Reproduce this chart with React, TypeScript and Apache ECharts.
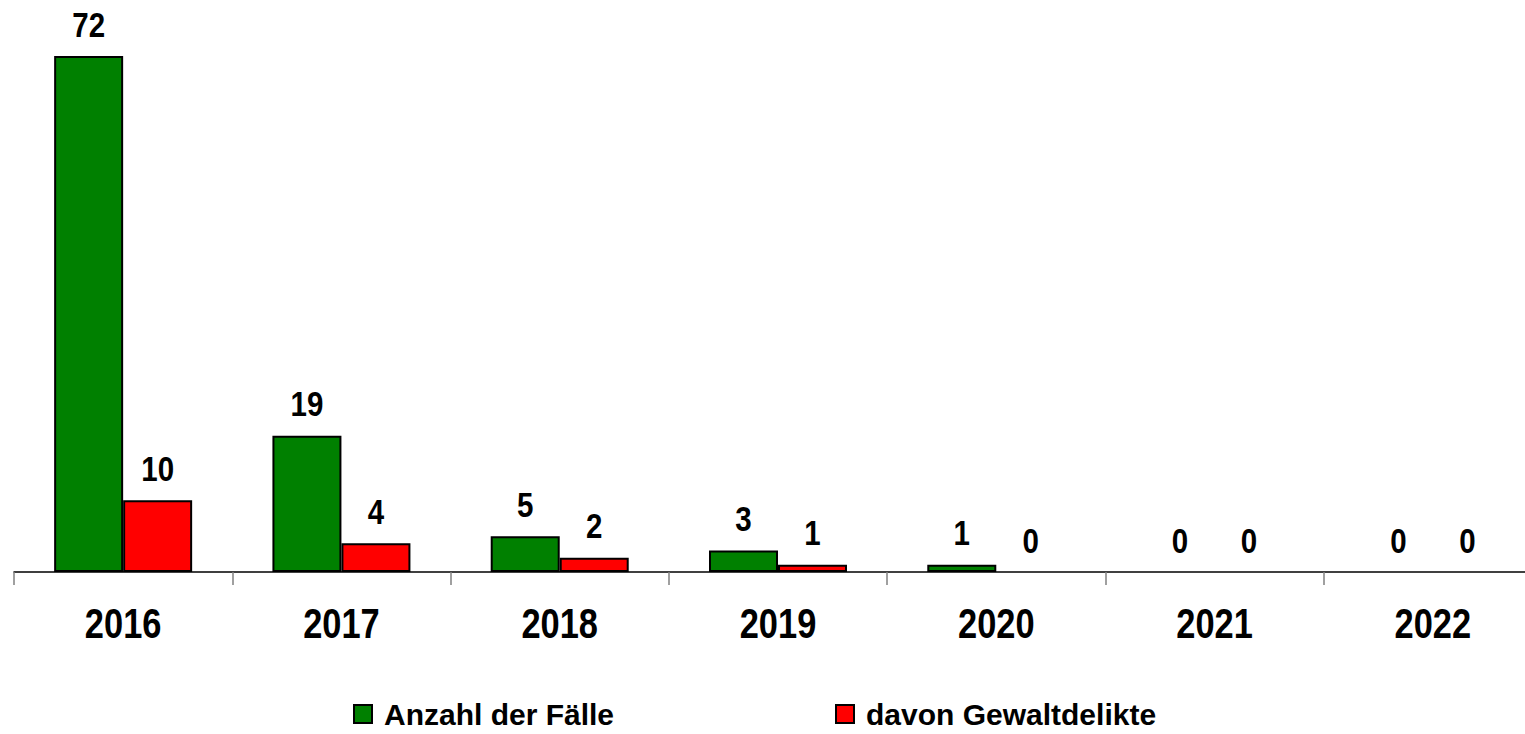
import React, { useEffect, useRef } from "react";
import * as echarts from "echarts";

const years = ["2016", "2017", "2018", "2019", "2020", "2021", "2022"];
const cases = [72, 19, 5, 3, 1, 0, 0];
const violent = [10, 4, 2, 1, 0, 0, 0];
const seriesNames = ["Anzahl der Fälle", "davon Gewaltdelikte"];

const FONT = '"Liberation Sans", Arial, sans-serif';
const NARROW = 0.82;

function txt(x: number, y: number, text: string, fontSize: number, vAlign: string) {
  return {
    type: "text",
    x,
    y,
    scaleX: NARROW,
    style: {
      text,
      fill: "#000",
      fontSize,
      fontWeight: "bold",
      fontFamily: FONT,
      align: "center",
      verticalAlign: vAlign,
    },
  };
}

export default function App() {
  const ref = useRef<HTMLDivElement>(null);
  useEffect(() => {
    if (!ref.current) return;
    const chart = echarts.init(ref.current, null, { renderer: "svg" });
    const barData = (arr: number[]) =>
      arr.map((v) => (v === 0 ? { value: v, itemStyle: { borderWidth: 0 } } : v));
    const labelRows = years.map((_, i) => [i, cases[i], violent[i]]);
    const legendText = {
      color: "#000",
      fontWeight: "bold",
      fontSize: 30,
      fontFamily: FONT,
      padding: [0, 0, 0, 7],
    };
    chart.setOption({
      animation: false,
      backgroundColor: "#fff",
      grid: { left: 14, top: 56, bottom: 162, right: -17, outerBoundsMode: "none", containLabel: false },
      legend: [
        {
          left: 348,
          top: 694,
          itemWidth: 18,
          itemHeight: 18,
          icon: "rect",
          textStyle: legendText,
          data: [seriesNames[0]],
        },
        {
          left: 830,
          top: 694,
          itemWidth: 18,
          itemHeight: 18,
          icon: "rect",
          textStyle: legendText,
          data: [seriesNames[1]],
        },
      ],
      xAxis: {
        type: "category",
        data: years,
        axisLine: { lineStyle: { color: "#000", width: 1.5 } },
        axisTick: { show: true, length: 13, lineStyle: { color: "#808080", width: 1.5 } },
        axisLabel: { show: false },
      },
      yAxis: { type: "value", min: 0, max: 72, show: false, splitLine: { show: false } },
      series: [
        {
          name: seriesNames[0],
          type: "bar",
          data: barData(cases),
          barWidth: 69,
          barGap: "0%",
          itemStyle: { color: "#008000", borderColor: "#000", borderWidth: 2 },
        },
        {
          name: seriesNames[1],
          type: "bar",
          data: barData(violent),
          barWidth: 69,
          barGap: "0%",
          itemStyle: { color: "#ff0000", borderColor: "#000", borderWidth: 2 },
        },
        {
          name: "labels",
          type: "custom",
          silent: true,
          z: 10,
          clip: false,
          data: labelRows,
          encode: { x: 0, y: 1 },
          renderItem: (params: any, api: any) => {
            const i = api.value(0);
            const a = api.value(1);
            const b = api.value(2);
            const base = api.coord([i, 0]);
            const pa = api.coord([i, a]);
            const pb = api.coord([i, b]);
            const half = 34.5;
            return {
              type: "group",
              children: [
                txt(base[0] - half, pa[1] - 14, String(a), 36, "bottom"),
                txt(base[0] + half, pb[1] - 14, String(b), 36, "bottom"),
                txt(base[0], base[1] + 51, years[i], 42, "middle"),
              ],
            };
          },
        },
      ],
    });
    return () => chart.dispose();
  }, []);
  return <div ref={ref} style={{ position: "fixed", left: 0, top: 0, width: 1525, height: 734 }} />;
}
